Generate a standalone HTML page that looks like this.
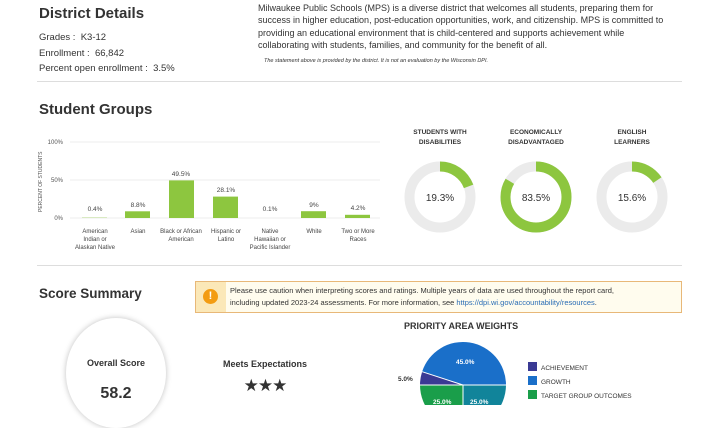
<!DOCTYPE html><html><head><style>
body{margin:0;width:719px;height:405px;background:#fff;font-family:"Liberation Sans",sans-serif;color:#333;position:relative;overflow:hidden}
.a{position:absolute;white-space:nowrap}
h2{margin:0;font-size:15px;font-weight:bold;color:#333}
.s{font-size:9px}
.t{font-size:6px;text-align:center;line-height:8px}
</style></head><body>
<div class="a" style="left:39px;top:5px"><h2>District Details</h2></div>
<div class="a" style="left:39px;top:30px;font-size:9.5px;line-height:15.5px">Grades : &nbsp;K3-12<br>Enrollment : &nbsp;66,842<br>Percent open enrollment : &nbsp;3.5%</div>
<div class="a" style="left:258px;top:2px;font-size:9px;line-height:12.3px;color:#333">Milwaukee Public Schools (MPS) is a diverse district that welcomes all students, preparing them for<br>success in higher education, post-education opportunities, work, and citizenship. MPS is committed to<br>providing an educational environment that is child-centered and supports achievement while<br>collaborating with students, families, and community for the benefit of all.</div>
<div class="a" style="left:264px;top:58px;font-size:5.5px;font-style:italic">The statement above is provided by the district. It is not an evaluation by the Wisconsin DPI.</div>
<div class="a" style="left:37px;top:81px;width:645px;border-top:1px solid #ddd"></div>
<div class="a" style="left:39px;top:101px"><h2>Student Groups</h2></div>
<svg class="a" style="left:0;top:130px" width="400" height="125" font-family="Liberation Sans" font-size="6">
<g stroke="#eee"><line x1="70" y1="12" x2="380" y2="12"/><line x1="70" y1="50" x2="380" y2="50"/><line x1="70" y1="88" x2="380" y2="88"/></g>
<g fill="#555" text-anchor="end"><text x="63" y="14">100%</text><text x="63" y="52">50%</text><text x="63" y="90">0%</text></g>
<text transform="translate(42,82) rotate(-90)" font-size="5" fill="#555">PERCENT OF STUDENTS</text>
<g fill="#8dc63f"><rect x="82" y="87.7" width="25" height=".3"/><rect x="125" y="81.3" width="25" height="6.7"/><rect x="169" y="50.4" width="25" height="37.6"/><rect x="213" y="66.6" width="25" height="21.4"/><rect x="301" y="81.2" width="25" height="6.8"/><rect x="345" y="84.8" width="25" height="3.2"/></g>
<g fill="#444" text-anchor="middle" font-size="6.5"><text x="95" y="81">0.4%</text><text x="138" y="77">8.8%</text><text x="181" y="46">49.5%</text><text x="226" y="62">28.1%</text><text x="270" y="81">0.1%</text><text x="314" y="77">9%</text><text x="358" y="80">4.2%</text></g>
<g fill="#444" text-anchor="middle"><text x="95" y="103">American</text><text x="95" y="111">Indian or</text><text x="95" y="119">Alaskan Native</text><text x="138" y="103">Asian</text><text x="181" y="103">Black or African</text><text x="181" y="111">American</text><text x="226" y="103">Hispanic or</text><text x="226" y="111">Latino</text><text x="270" y="103">Native</text><text x="270" y="111">Hawaiian or</text><text x="270" y="119">Pacific Islander</text><text x="314" y="103">White</text><text x="358" y="103">Two or More</text><text x="358" y="111">Races</text></g>
</svg>
<svg class="a" style="left:360px;top:120px" width="359" height="130" font-family="Liberation Sans">
<g font-size="6.5" font-weight="bold" fill="#333" text-anchor="middle"><text x="80" y="14">STUDENTS WITH</text><text x="80" y="24">DISABILITIES</text><text x="176" y="14">ECONOMICALLY</text><text x="176" y="24">DISADVANTAGED</text><text x="272" y="14">ENGLISH</text><text x="272" y="24">LEARNERS</text></g>
<g fill="none" stroke-width="10">
<circle cx="80" cy="77" r="30.5" stroke="#ebebeb"/><circle cx="176" cy="77" r="30.5" stroke="#ebebeb"/><circle cx="272" cy="77" r="30.5" stroke="#ebebeb"/>
<circle cx="80" cy="77" r="30.5" stroke="#8dc63f" stroke-dasharray="36.99 200" transform="rotate(-90 80 77)"/>
<circle cx="176" cy="77" r="30.5" stroke="#8dc63f" stroke-dasharray="160.0 200" transform="rotate(-90 176 77)"/>
<circle cx="272" cy="77" r="30.5" stroke="#8dc63f" stroke-dasharray="29.9 200" transform="rotate(-90 272 77)"/>
</g>
<g font-size="10" fill="#333" text-anchor="middle"><text x="80" y="81">19.3%</text><text x="176" y="81">83.5%</text><text x="272" y="81">15.6%</text></g>
</svg>
<div class="a" style="left:37px;top:265px;width:645px;border-top:1px solid #ddd"></div>
<div class="a" style="left:39px;top:286px"><h2 style="font-size:13.5px">Score Summary</h2></div>
<div class="a" style="left:195px;top:281px;width:485px;height:30px;border:1px solid #e8b878;background:#fffcee"></div>
<div class="a" style="left:196px;top:282px;width:30px;height:30px;background:#fbe8b8"></div>
<div class="a" style="left:203px;top:289px;width:15px;height:15px;border-radius:50%;background:#f39c12;color:#fff;font-size:11px;font-weight:bold;text-align:center;line-height:15px">!</div>
<div class="a" style="left:230px;top:285px;font-size:7.5px;line-height:12px;color:#333">Please use caution when interpreting scores and ratings. Multiple years of data are used throughout the report card,<br>including updated 2023-24 assessments. For more information, see <span style="color:#2a6db5">https://dpi.wi.gov/accountability/resources</span>.</div>
<div class="a" style="left:66px;top:318px;width:100px;height:110px;border-radius:50%;background:#fff;box-shadow:0 0 6px rgba(0,0,0,.25)"></div>
<div class="a" style="left:66px;top:358px;width:100px;text-align:center;font-size:9px;font-weight:bold">Overall Score</div>
<div class="a" style="left:66px;top:385px;width:100px;text-align:center;font-size:16px;font-weight:bold">58.2</div>
<div class="a" style="left:210px;top:359px;width:110px;text-align:center;font-size:9px;font-weight:bold">Meets Expectations</div>
<div class="a" style="left:210px;top:376px;width:110px;text-align:center;font-size:17px;color:#333;letter-spacing:-1px">★★★</div>
<div class="a" style="left:404px;top:321px;font-size:9px;font-weight:bold">PRIORITY AREA WEIGHTS</div>
<svg class="a" style="left:0;top:0" width="719" height="405" font-family="Liberation Sans">
<path d="M463 385 L422.1 371.7 A43 43 0 0 1 506 385Z" fill="#1a6fc9"/>
<path d="M463 385 L506 385 A43 43 0 0 1 463 428Z" fill="#11849a"/>
<path d="M463 385 L463 428 A43 43 0 0 1 420 385Z" fill="#1a9e4a"/>
<path d="M463 385 L420 385 A43 43 0 0 1 422.1 371.7Z" fill="#3a3a94"/>
<g stroke="#fff" stroke-width="1"><line x1="463" y1="385" x2="422.1" y2="371.7"/><line x1="463" y1="385" x2="506" y2="385"/><line x1="463" y1="385" x2="463" y2="428"/><line x1="463" y1="385" x2="420" y2="385"/></g>
<g font-size="6.5" font-weight="bold" fill="#fff"><text x="456" y="364">45.0%</text><text x="433" y="404">25.0%</text><text x="470" y="404">25.0%</text></g>
<text x="398" y="381" font-size="6.5" font-weight="bold" fill="#333">5.0%</text>
<rect x="528" y="362" width="9" height="9" fill="#3a3a94"/><rect x="528" y="376" width="9" height="9" fill="#1a6fc9"/><rect x="528" y="390" width="9" height="9" fill="#1a9e4a"/>
<g font-size="6.5" fill="#333"><text x="541" y="370">ACHIEVEMENT</text><text x="541" y="384">GROWTH</text><text x="541" y="398">TARGET GROUP OUTCOMES</text></g>
</svg>
</body></html>
